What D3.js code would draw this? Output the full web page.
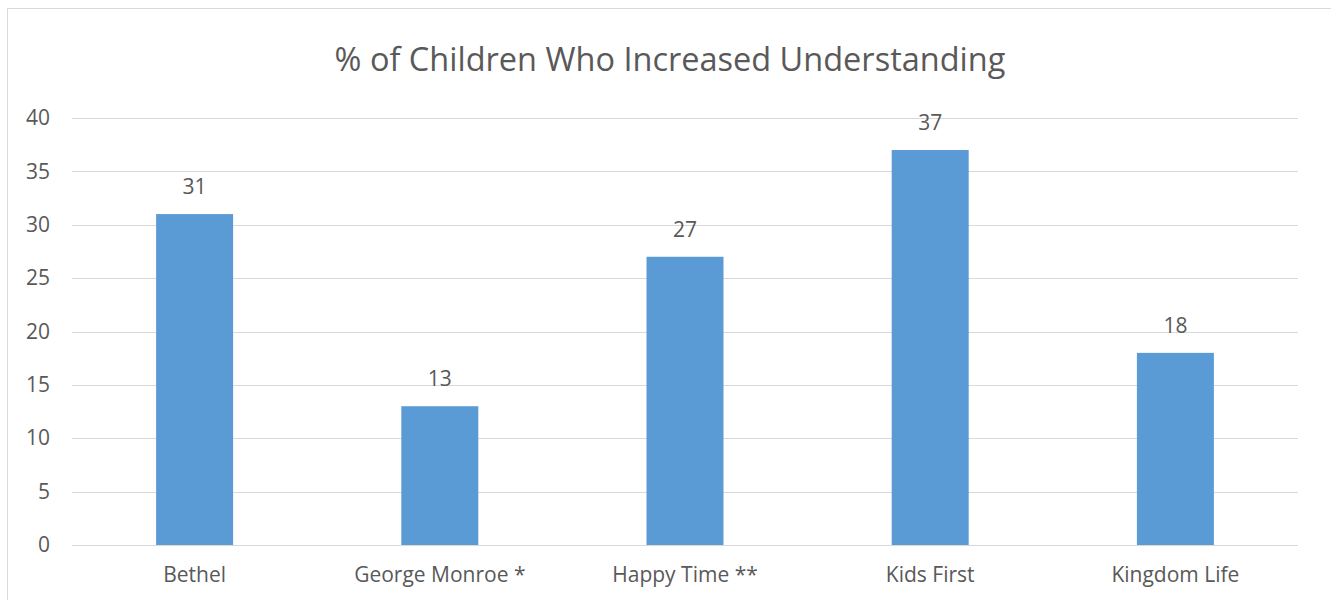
<!DOCTYPE html>
<html>
<head>
<meta charset="utf-8">
<script src="https://cdn.jsdelivr.net/npm/d3@7"></script>
<style>
  html, body { margin: 0; padding: 0; background: #fff; }
  svg { display: block; font-family: "Open Sans", sans-serif; }
</style>
</head>
<body>
<svg id="chart" width="1331" height="600"></svg>
<script>
const categories = ["Bethel", "George Monroe *", "Happy Time **", "Kids First", "Kingdom Life"];
const values = [31, 13, 27, 37, 18];
const yTicks = [0, 5, 10, 15, 20, 25, 30, 35, 40];
const title = "% of Children Who Increased Understanding";

const svg = d3.select("#chart");
const textColor = "#595959";
const font = "'Open Sans', sans-serif";

// outer chart frame
svg.append("rect")
  .attr("x", 7.5).attr("y", 8.5)
  .attr("width", 1340).attr("height", 600)
  .attr("fill", "#fff")
  .attr("stroke", "#D9D9D9").attr("stroke-width", 1);

const plot = { left: 72, right: 1298, top: 118, bottom: 545 };

const x = d3.scaleBand()
  .domain(categories)
  .range([plot.left, plot.right])
  .paddingInner(0.686)
  .paddingOuter(0.343);

const y = d3.scaleLinear()
  .domain([0, 40])
  .range([plot.bottom, plot.top]);

// horizontal gridlines
svg.append("g")
  .selectAll("line")
  .data(yTicks)
  .join("line")
  .attr("x1", plot.left).attr("x2", plot.right)
  .attr("y1", d => Math.round(y(d)) + 0.5)
  .attr("y2", d => Math.round(y(d)) + 0.5)
  .attr("stroke", "#D9D9D9").attr("stroke-width", 1);

// y axis labels
const yAxis = svg.append("g")
  .attr("transform", `translate(${plot.left - 22},0)`)
  .call(d3.axisLeft(y).tickValues(yTicks).tickSize(0).tickPadding(0));
yAxis.select(".domain").remove();
yAxis.selectAll("text")
  .attr("fill", textColor)
  .style("font-size", "21px")
  .style("font-family", font);

// bars
svg.append("g")
  .selectAll("rect")
  .data(values)
  .join("rect")
  .attr("x", (d, i) => x(categories[i]))
  .attr("width", x.bandwidth())
  .attr("y", d => y(d))
  .attr("height", d => y(0) - y(d))
  .attr("fill", "#5B9BD5");

// value labels
svg.append("g")
  .selectAll("text")
  .data(values)
  .join("text")
  .attr("x", (d, i) => x(categories[i]) + x.bandwidth() / 2)
  .attr("y", d => y(d) - 20)
  .attr("text-anchor", "middle")
  .attr("fill", textColor)
  .style("font-size", "21px")
  .text(d => d);

// category labels
const xAxis = svg.append("g")
  .attr("transform", `translate(0,${plot.bottom})`)
  .call(d3.axisBottom(x).tickSize(0).tickPadding(22));
xAxis.select(".domain").remove();
xAxis.selectAll("text")
  .attr("fill", textColor)
  .style("font-size", "21px")
  .style("font-family", font);

// title
svg.append("text")
  .attr("x", 670)
  .attr("y", 71)
  .attr("text-anchor", "middle")
  .attr("fill", textColor)
  .style("font-size", "32.5px")
  .text(title);
</script>
</body>
</html>
